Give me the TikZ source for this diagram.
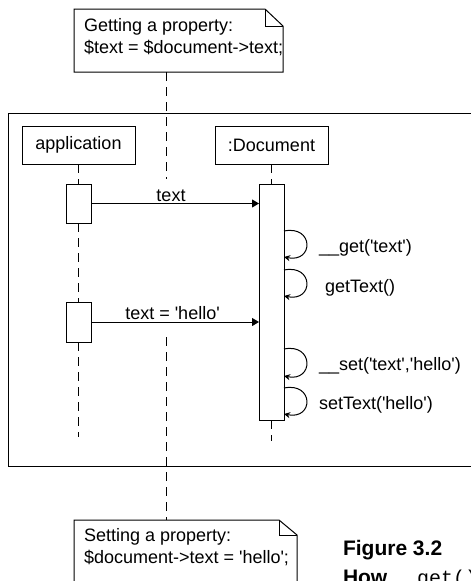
\documentclass[tikz,border=0pt]{standalone}
\usepackage{fontspec}
\setmainfont{Liberation Sans}
\setmonofont{Liberation Mono}
\usetikzlibrary{arrows.meta,calc}
\newcommand{\sq}{\textquotesingle}

\begin{document}
\begin{tikzpicture}[x=1pt,y=-1pt,
  every node/.style={inner sep=0pt, outer sep=0pt},
  lbl/.style={font=\fontsize{18}{22}\selectfont, anchor=base west},
  objbox/.style={draw, line width=1pt, minimum width=113pt, minimum height=38pt,
    font=\fontsize{18}{22}\selectfont},
  actbox/.style={draw, fill=white, line width=1pt, minimum width=25pt},
  lifeline/.style={line width=1pt, dash pattern=on 9pt off 6pt},
  msg/.style={line width=1pt, -{Triangle[length=7pt,width=8pt]}},
  selfcall/.style={line width=1pt, -{Stealth[length=6pt,width=6pt]}},
  outline/.style={line width=1pt},
  capfont/.style={font=\bfseries\fontsize{21}{25}\selectfont, anchor=base west}
]
\useasboundingbox (0,0) rectangle (471,581);
\clip (0,0) rectangle (471,581);

% enclosing frame (open to the right)
\node[draw, line width=1pt, anchor=north west, minimum width=490pt, minimum height=353pt] (frame) at (8,113) {};

% note: getting a property
\node[anchor=north west, minimum width=209pt, minimum height=63pt] (gnote) at (74,9) {};
\draw[outline] (gnote.north west) -- ([xshift=-18pt]gnote.north east)
  -- ([yshift=-17pt]gnote.north east) -- (gnote.south east) -- (gnote.south west) -- cycle;
\draw[outline] ([xshift=-18pt]gnote.north east) |- ([yshift=-17pt]gnote.north east);
\node[lbl] (gline1) at (84,31) {Getting a property:};
\node[lbl] (gline2) at (84,53) {\$text = \$document->text;};
\coordinate (gtail) at (166,179);
\draw[lifeline] (gnote.south -| gtail) -- (gtail);

% note: setting a property
\node[anchor=north west, minimum width=223pt, minimum height=80pt] (snote) at (74,520) {};
\draw[outline] (snote.north west) -- ([xshift=-18pt]snote.north east)
  -- ([yshift=-15pt]snote.north east) -- (snote.south east) -- (snote.south west) -- cycle;
\draw[outline] ([xshift=-18pt]snote.north east) |- ([yshift=-15pt]snote.north east);
\node[lbl] (sline1) at (84,541) {Setting a property:};
\node[lbl] (sline2) at (84,563) {\$document->text = \sq hello\sq;};
\coordinate (stail) at (166,337);
\draw[lifeline] (stail) -- (stail |- snote.north);

% objects
\node[objbox] (app) at (78.5,145) {application};
\node[objbox] (doc) at (271.5,145) {:Document};

% activations
\node[actbox, minimum height=39pt] (a1) at (78.5,203.5) {};
\node[actbox, minimum height=40pt] (a2) at (78.5,322) {};
\node[actbox, minimum height=236pt] (d1) at (271.5,302) {};

% lifelines
\coordinate (append) at (78.5,437);
\coordinate (docend) at (271.5,441);
\draw[lifeline] (app.south) -- (a1.north);
\draw[lifeline] (a1.south) -- (a2.north);
\draw[lifeline] (a2.south) -- (append);
\draw[lifeline] (doc.south) -- (d1.north);
\draw[lifeline] (d1.south) -- (docend);

% messages
\draw[msg] (a1.east) -- (a1.east -| d1.west);
\node[lbl, anchor=base] (m1) at (171,201) {text};
\draw[msg] (a2.east) -- (a2.east -| d1.west);
\node[lbl, anchor=base] (m2) at (172.5,319) {text = \sq hello\sq};

% self calls
\draw[selfcall] (d1.east |- 0,231) .. controls +(30,-6) and +(30,6) .. (d1.east |- 0,257);
\draw[selfcall] (d1.east |- 0,270) .. controls +(30,-6) and +(30,6) .. (d1.east |- 0,296);
\draw[selfcall] (d1.east |- 0,349) .. controls +(30,-6) and +(30,6) .. (d1.east |- 0,376);
\draw[selfcall] (d1.east |- 0,388) .. controls +(30,-6) and +(30,6) .. (d1.east |- 0,414);
\node[lbl] (c1) at (319,252.5) {\_\_get(\sq text\sq)};
\node[lbl] (c2) at (325,292.5) {getText()};
\node[lbl] (c3) at (319,370) {\_\_set(\sq text\sq,\sq hello\sq)};
\node[lbl] (c4) at (319,409) {setText(\sq hello\sq)};

% caption
\node[capfont] (fig) at (343,555) {Figure 3.2};
\node[capfont] (how) at (343,584) {How \mdseries\ttfamily\fontsize{20}{24}\selectfont\_\_get()};
\end{tikzpicture}
\end{document}
